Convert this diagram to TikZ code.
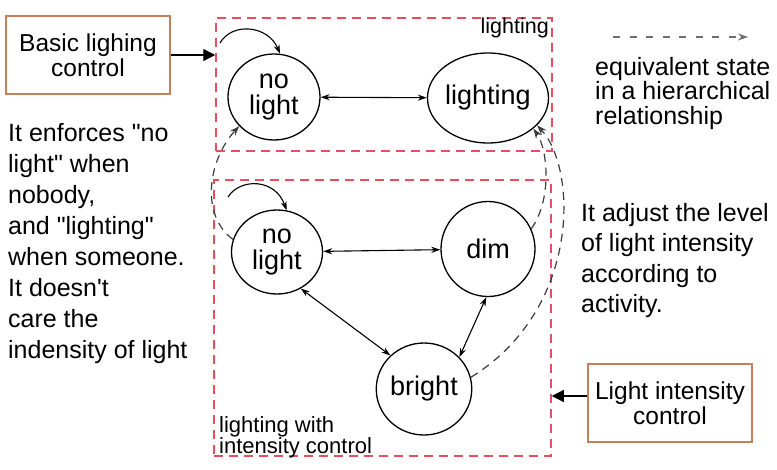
\documentclass[tikz,border=0pt]{standalone}
\usepackage{fontspec}
\setmainfont{Liberation Sans}
\newfontfamily\plainsans{Liberation Sans}
\usetikzlibrary{arrows.meta,shapes.geometric}
\definecolor{reddash}{RGB}{232,78,92}
\definecolor{boxbrown}{RGB}{196,128,88}
\definecolor{curvegray}{RGB}{60,60,60}
\definecolor{leggray}{RGB}{110,110,110}
\tikzset{
  statenode/.style={draw, line width=1.3pt, ellipse, inner sep=0pt, align=center,
    font=\plainsans\fontsize{27}{26}\selectfont},
  ctrlbox/.style={draw=boxbrown, line width=1.4pt, rectangle, inner sep=0pt, align=center,
    font=\plainsans\fontsize{24.5}{25}\selectfont},
  groupbox/.style={draw=reddash, line width=1.5pt, dash pattern=on 9pt off 6pt, rectangle, inner sep=0pt},
  trans/.style={line width=1.1pt, {Stealth[length=9pt,width=6pt]}-{Stealth[length=9pt,width=6pt]}},
  loop/.style={line width=1.1pt, -{Stealth[length=9pt,width=6pt]}},
  equiv/.style={line width=1.2pt, draw=curvegray, dash pattern=on 8pt off 6pt, -{Stealth[length=10pt,width=7pt]}},
  inarrow/.style={line width=1.3pt, -{Triangle[length=12pt,width=12pt]}},
  bodytext/.style={inner sep=0pt, align=left, font=\plainsans\fontsize{25}{31}\selectfont},
  smalllabel/.style={inner sep=0pt, align=left, font=\plainsans\fontsize{22}{21}\selectfont},
}
\begin{document}
\begin{tikzpicture}[x=1pt,y=-1pt]
\plainsans
\useasboundingbox (0,0) rectangle (777,469);

% group boxes
\node[groupbox, minimum width=336pt, minimum height=133pt] (topbox) at (384,84.5) {};
\node[groupbox, minimum width=337pt, minimum height=276pt] (botbox) at (382.5,318) {};
\node[smalllabel, anchor=east, font=\plainsans\fontsize{21.5}{21}\selectfont] (toplabel) at (549,28) {lighting};
\node[smalllabel, anchor=north west] (botlabel) at (219,416) {lighting with\\intensity control};

% control boxes
\node[ctrlbox, minimum width=164pt, minimum height=78pt] (basic) at (88,55) {Basic lighing\\control};
\node[ctrlbox, minimum width=164pt, minimum height=78pt] (intens) at (670,403) {Light intensity\\control};

% states
\node[statenode, minimum width=92pt, minimum height=86pt] (nl1) at (274,97) {no\\light};
\node[statenode, minimum width=107pt, minimum height=90pt] (lit) at (488,98) {lighting};
\node[statenode, minimum width=91pt, minimum height=84pt] (nl2) at (277,252) {no\\light};
\node[statenode, minimum width=94pt, minimum height=95pt] (dim) at (488,249) {dim};
\node[statenode, minimum width=94pt, minimum height=92pt] (br) at (424,389) {bright};

% transitions
\draw[trans] (nl1) -- (lit);
\draw[trans] (nl2) -- (dim);
\draw[trans] (nl2.-57) -- (br.135);
\draw[trans] (dim.268) -- (br.42);

% self loops
\coordinate (l1s) at (220,43);
\coordinate (l2s) at (228,197);
\draw[loop] (l1s) .. controls (232,22) and (268,25) .. (nl1.82);
\draw[loop] (l2s) .. controls (240,178) and (275,178) .. (nl2.77);

% equivalence curves
\draw[equiv] (nl2.164) .. controls (200,215) and (208,160) .. (nl1.220);
\draw[equiv] (dim.25) .. controls (552,200) and (548,150) .. (lit.-34);
\draw[equiv] (br.14) .. controls (580,310) and (578,170) .. (lit.-29);

% input arrows
\draw[inarrow] (basic.east) -- (basic.east -| topbox.west);
\draw[inarrow] (intens.west |- 0,396) -- (botbox.east |- 0,396);

% legend
\coordinate (legs) at (613,37);
\coordinate (lege) at (748,37);
\draw[line width=1.4pt, draw=leggray, dash pattern=on 7pt off 9.5pt, -{Stealth[length=10pt,width=7pt]}] (legs) -- (lege);
\node[bodytext, anchor=north west, font=\plainsans\fontsize{25}{24.5}\selectfont] (legtext) at (595,57) {equivalent state\\in a hierarchical\\relationship};

% descriptions
\node[bodytext, anchor=north west] (lefttext) at (8,123) {It enforces "no\\light" when\\nobody,\\and "lighting"\\when someone.\\It doesn't\\care the\\indensity of light};
\node[bodytext, anchor=north west, font=\plainsans\fontsize{25}{30.5}\selectfont] (righttext) at (581,203) {It adjust the level\\of light intensity\\according to\\activity.};
\end{tikzpicture}
\end{document}
